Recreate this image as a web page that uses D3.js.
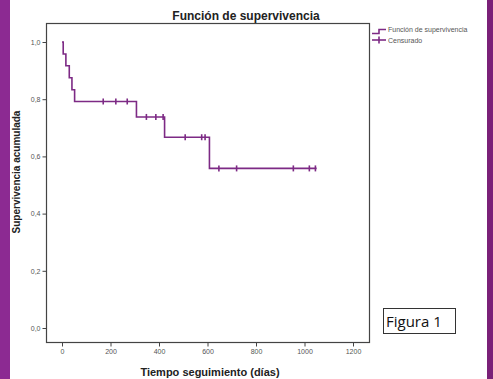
<!DOCTYPE html>
<html><head><meta charset="utf-8">
<script src="https://cdn.jsdelivr.net/npm/d3@7"></script>
<style>body{margin:0;background:#fff}svg{display:block}</style>
</head><body>
<script>
// Data
const eventTimes = [0, 5, 16, 30, 41, 52, 307, 423, 608];
const survival   = [1, 0.958, 0.917, 0.875, 0.833, 0.792, 0.738, 0.667, 0.558];
const censoredTimes = [170, 222, 269, 348, 387, 417, 508, 576, 590, 647, 720, 954, 1020, 1045];
const endTime = 1050;
const xTicks = [0, 200, 400, 600, 800, 1000, 1200];
const yTicks = [0, 0.2, 0.4, 0.6, 0.8, 1.0];
const title = "Función de supervivencia";
const xLabel = "Tiempo seguimiento (días)";
const yLabel = "Supervivencia acumulada";
const legendLabels = ["Función de supervivencia", "Censurado"];
const figLabel = "Figura 1";

const W = 493, H = 379;
const purple = "#7d2a85";
const svg = d3.select("body").append("svg").attr("width", W).attr("height", H);
svg.append("rect").attr("width", W).attr("height", H).attr("fill", "#fff");

const plot = {l: 46, r: 369, t: 23, b: 342};
const x = d3.scaleLinear().domain([0, 1200]).range([62, 353]);
const y = d3.scaleLinear().domain([0, 1]).range([328, 42]);

// frame
svg.append("rect").attr("x", plot.l + 0.5).attr("y", plot.t + 0.5)
  .attr("width", plot.r - plot.l).attr("height", plot.b - plot.t)
  .attr("fill", "#fff").attr("stroke", "#444").attr("stroke-width", 1.2);

// axes
const fontAx = "Liberation Sans, Arial, sans-serif";
const yAxis = d3.axisLeft(y).tickValues(yTicks).tickSize(4).tickPadding(2)
  .tickFormat(d => d3.format(".1f")(d).replace(".", ","));
const gy = svg.append("g").attr("transform", `translate(${plot.l + 0.5},0)`).call(yAxis);
gy.select(".domain").remove();
gy.selectAll("line").attr("stroke", "#444");
gy.selectAll("text").attr("font-family", fontAx).attr("font-size", 7).attr("fill", "#555");

const xAxis = d3.axisBottom(x).tickValues(xTicks).tickSize(4).tickPadding(3).tickFormat(d3.format("d"));
const gx = svg.append("g").attr("transform", `translate(0,${plot.b + 0.5})`).call(xAxis);
gx.select(".domain").remove();
gx.selectAll("line").attr("stroke", "#444");
gx.selectAll("text").attr("font-family", fontAx).attr("font-size", 7).attr("fill", "#555");

// KM step curve
const pts = eventTimes.map((t, i) => [t, survival[i]]);
pts.push([endTime, survival[survival.length - 1]]);
const line = d3.line().x(d => x(d[0])).y(d => y(d[1])).curve(d3.curveStepAfter);
svg.append("path").datum(pts).attr("d", line)
  .attr("fill", "none").attr("stroke", purple).attr("stroke-width", 1.6);

function survAt(t) {
  let s = 1;
  for (let i = 0; i < eventTimes.length; i++) if (eventTimes[i] <= t) s = survival[i];
  return s;
}
svg.append("g").selectAll("line").data(censoredTimes).join("line")
  .attr("x1", d => x(d)).attr("x2", d => x(d))
  .attr("y1", d => y(survAt(d)) - 3).attr("y2", d => y(survAt(d)) + 3)
  .attr("stroke", purple).attr("stroke-width", 1.6);

// title and axis labels
svg.append("text").attr("x", 246).attr("y", 20).attr("text-anchor", "middle")
  .attr("font-family", fontAx).attr("font-weight", "bold").attr("font-size", 12).attr("fill", "#222").text(title);
svg.append("text").attr("x", 210).attr("y", 376).attr("text-anchor", "middle")
  .attr("font-family", fontAx).attr("font-weight", "bold").attr("font-size", 11).attr("fill", "#222").text(xLabel);
svg.append("text").attr("transform", "translate(20,172) rotate(-90)").attr("text-anchor", "middle")
  .attr("font-family", fontAx).attr("font-weight", "bold").attr("font-size", 10).attr("fill", "#222").text(yLabel);

// legend
const lg = svg.append("g");
lg.append("path").attr("d", "M372,33.5H379V29.5H386").attr("fill", "none").attr("stroke", purple).attr("stroke-width", 1.6);
lg.append("line").attr("x1", 372).attr("x2", 386).attr("y1", 40).attr("y2", 40).attr("stroke", purple).attr("stroke-width", 1.6);
lg.append("line").attr("x1", 379).attr("x2", 379).attr("y1", 36.5).attr("y2", 43.5).attr("stroke", purple).attr("stroke-width", 1.6);
lg.selectAll("text").data(legendLabels).join("text")
  .attr("x", 388).attr("y", (d, i) => 31.5 + i * 11)
  .attr("font-family", fontAx).attr("font-size", 7).attr("fill", "#555").text(d => d);

// Figura 1 box
svg.append("rect").attr("x", 383.5).attr("y", 308.5).attr("width", 72).attr("height", 25)
  .attr("fill", "#fff").attr("stroke", "#333").attr("stroke-width", 1);
svg.append("text").attr("x", 386).attr("y", 326.5).attr("font-family", "Open Sans, sans-serif")
  .attr("font-size", 15).attr("fill", "#111").text(figLabel);

// purple side borders
svg.append("rect").attr("x", 0).attr("y", 0).attr("width", 10).attr("height", H).attr("fill", "#8c2a92");
svg.append("rect").attr("x", 487).attr("y", 0).attr("width", 6).attr("height", H).attr("fill", "#7a2078");
</script>
</body></html>
